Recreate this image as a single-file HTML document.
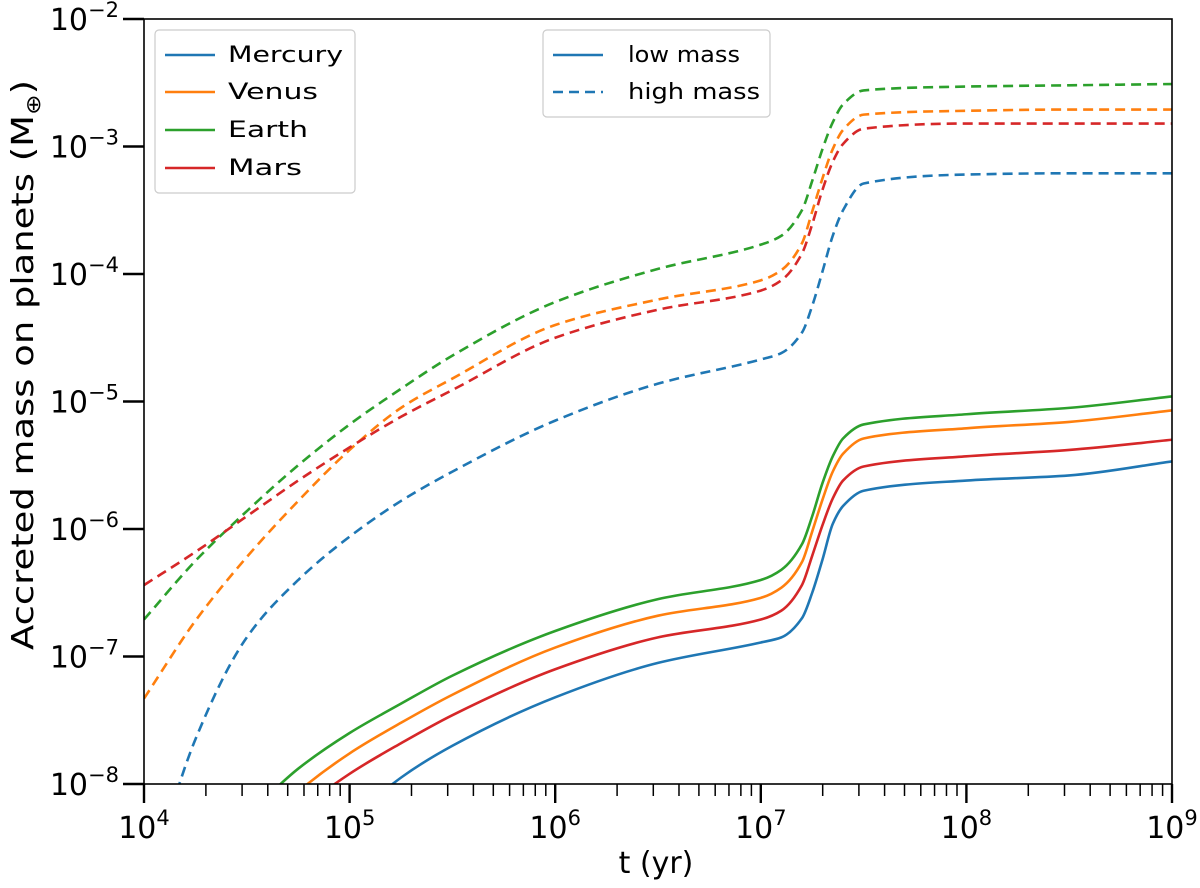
<!DOCTYPE html>
<html><head><meta charset="utf-8"><style>
html,body{margin:0;padding:0;background:#fff;}
svg{display:block;font-family:"DejaVu Sans","Liberation Sans",sans-serif;}
</style></head><body>
<svg id="chart" width="1200" height="888" viewBox="0 0 1200 888" xmlns="http://www.w3.org/2000/svg">
<defs><clipPath id="clip"><rect x="144" y="19" width="1028" height="765"/></clipPath></defs>
<g id="lines" clip-path="url(#clip)"></g>
<rect x="144" y="19" width="1028" height="765" fill="none" stroke="#000" stroke-width="1.6"/>
<g id="ticks"></g>
<text x="656" y="873" font-size="30" text-anchor="middle">t (yr)</text>
<text transform="translate(33,365) rotate(-90)" font-size="30" text-anchor="middle" textLength="570" lengthAdjust="spacingAndGlyphs">Accreted mass on planets (M<tspan font-size="20" dy="7">⊕</tspan><tspan dy="-7">)</tspan></text>
<g>
<rect x="155" y="30" width="200" height="163" rx="4" fill="#fff" stroke="#ccc" stroke-width="1.2"/>
<line x1="165" x2="215" y1="55" y2="55" stroke="#1f77b4" stroke-width="2.6"/><text x="228" y="62" font-size="22" textLength="115" lengthAdjust="spacingAndGlyphs">Mercury</text>
<line x1="165" x2="215" y1="92" y2="92" stroke="#ff7f0e" stroke-width="2.6"/><text x="228" y="99" font-size="22" textLength="90" lengthAdjust="spacingAndGlyphs">Venus</text>
<line x1="165" x2="215" y1="130" y2="130" stroke="#2ca02c" stroke-width="2.6"/><text x="228" y="137" font-size="22" textLength="80" lengthAdjust="spacingAndGlyphs">Earth</text>
<line x1="165" x2="215" y1="168" y2="168" stroke="#d62728" stroke-width="2.6"/><text x="228" y="175" font-size="22" textLength="74" lengthAdjust="spacingAndGlyphs">Mars</text>
</g>
<g>
<rect x="543" y="30" width="227" height="87" rx="4" fill="#fff" stroke="#ccc" stroke-width="1.2"/>
<line x1="553" x2="603" y1="55" y2="55" stroke="#1f77b4" stroke-width="2.6"/><text x="628" y="62" font-size="22" textLength="112" lengthAdjust="spacingAndGlyphs">low mass</text>
<line x1="553" x2="603" y1="92" y2="92" stroke="#1f77b4" stroke-width="2.6" stroke-dasharray="10,6"/><text x="628" y="99" font-size="22" textLength="132" lengthAdjust="spacingAndGlyphs">high mass</text>
</g>
</svg>
<script>
const logT = [4,4.25,4.5,4.75,5,5.25,5.5,6,6.5,7,7.1,7.2,7.25,7.3,7.35,7.4,7.5,8,8.5,9];
const earthHigh   = [-6.71,-6.25,-5.86,-5.50,-5.18,-4.90,-4.64,-4.22,-3.96,-3.77,-3.70,-3.50,-3.27,-3.02,-2.81,-2.67,-2.56,-2.53,-2.52,-2.51];
const venusHigh   = [-7.33,-6.72,-6.22,-5.78,-5.38,-5.05,-4.82,-4.40,-4.20,-4.05,-3.97,-3.76,-3.51,-3.25,-3.02,-2.87,-2.75,-2.72,-2.71,-2.71];
const marsHigh    = [-6.44,-6.18,-5.90,-5.62,-5.36,-5.12,-4.91,-4.50,-4.28,-4.13,-4.05,-3.84,-3.61,-3.34,-3.12,-2.98,-2.86,-2.82,-2.82,-2.82];
const mercuryHigh = [-8.90,-7.65,-6.85,-6.40,-6.06,-5.78,-5.55,-5.15,-4.86,-4.67,-4.62,-4.46,-4.25,-3.98,-3.70,-3.50,-3.29,-3.22,-3.21,-3.21];
const earthLow    = [null,null,-8.25,-7.88,-7.60,-7.37,-7.15,-6.80,-6.55,-6.40,-6.32,-6.12,-5.90,-5.64,-5.43,-5.29,-5.18,-5.10,-5.05,-4.96];
const venusLow    = [null,null,-8.45,-8.06,-7.76,-7.52,-7.30,-6.93,-6.68,-6.54,-6.46,-6.26,-6.02,-5.77,-5.55,-5.41,-5.29,-5.21,-5.16,-5.07];
const marsLow     = [null,null,-8.60,-8.22,-7.92,-7.68,-7.46,-7.10,-6.85,-6.71,-6.64,-6.44,-6.21,-5.97,-5.76,-5.62,-5.51,-5.43,-5.38,-5.30];
const mercuryLow  = [null,null,null,-8.75,-8.30,-7.95,-7.70,-7.32,-7.05,-6.89,-6.85,-6.70,-6.50,-6.24,-5.96,-5.82,-5.70,-5.62,-5.58,-5.47];
const xTickExps = [4,5,6,7,8,9];
const yTickExps = [-2,-3,-4,-5,-6,-7,-8];

const NS='http://www.w3.org/2000/svg';
const X0=144,X1=1172,Y0=784,Y1=19;
function xs(l){return X0+(l-4)/5*(X1-X0);}
function ys(l){return Y0-(l+8)/6*(Y0-Y1);}
function mk(tag,attrs,parent){const e=document.createElementNS(NS,tag);for(const k in attrs)e.setAttribute(k,attrs[k]);parent.appendChild(e);return e;}
function pathFor(vals){
  const P=[];vals.forEach((v,i)=>{if(v!==null)P.push([xs(logT[i]),ys(v)]);});
  const n=P.length,d=[],m=new Array(n);
  for(let i=0;i<n-1;i++)d.push((P[i+1][1]-P[i][1])/(P[i+1][0]-P[i][0]));
  m[0]=d[0];m[n-1]=d[n-2];
  for(let i=1;i<n-1;i++){
    if(d[i-1]*d[i]<=0)m[i]=0;
    else{const h0=P[i][0]-P[i-1][0],h1=P[i+1][0]-P[i][0];const w1=2*h1+h0,w2=h1+2*h0;m[i]=(w1+w2)/(w1/d[i-1]+w2/d[i]);}
  }
  let s='M'+P[0][0].toFixed(2)+','+P[0][1].toFixed(2);
  for(let i=0;i<n-1;i++){
    const h=(P[i+1][0]-P[i][0])/3;
    s+=' C'+(P[i][0]+h).toFixed(2)+','+(P[i][1]+m[i]*h).toFixed(2)+' '+(P[i+1][0]-h).toFixed(2)+','+(P[i+1][1]-m[i+1]*h).toFixed(2)+' '+P[i+1][0].toFixed(2)+','+P[i+1][1].toFixed(2);
  }
  return s;
}
const lines=document.getElementById('lines');
const series=[
 ['mercury-high-mass-line',mercuryHigh,'#1f77b4',true],['venus-high-mass-line',venusHigh,'#ff7f0e',true],
 ['earth-high-mass-line',earthHigh,'#2ca02c',true],['mars-high-mass-line',marsHigh,'#d62728',true],
 ['mercury-low-mass-line',mercuryLow,'#1f77b4',false],['venus-low-mass-line',venusLow,'#ff7f0e',false],
 ['earth-low-mass-line',earthLow,'#2ca02c',false],['mars-low-mass-line',marsLow,'#d62728',false]];
series.forEach(s=>{
  const p=mk('path',{d:pathFor(s[1]),fill:'none',stroke:s[2],'stroke-width':2.6},lines);
  if(s[3])p.setAttribute('stroke-dasharray','10,6');
  
  
});
const tg=document.getElementById('ticks');
xTickExps.forEach(e=>{
  const x=xs(e);
  mk('line',{x1:x,x2:x,y1:Y0,y2:Y0+19,stroke:'#000','stroke-width':2.4},tg);
  const t=mk('text',{x:x,y:838,'font-size':30,'text-anchor':'middle'},tg);
  t.textContent='10';
  const s=mk('tspan',{'font-size':21,dy:-13},t);s.textContent=String(e);
  
  
  if(e<9)for(let m=2;m<=9;m++){const xm=xs(e+Math.log10(m));mk('line',{x1:xm,x2:xm,y1:Y0,y2:Y0+12,stroke:'#000','stroke-width':1.5},tg);}
});
yTickExps.forEach(e=>{
  const y=ys(e);
  mk('line',{x1:X0,x2:X0-21,y1:y,y2:y,stroke:'#000','stroke-width':2.4},tg);
  const t=mk('text',{x:119,y:y+11,'font-size':30,'text-anchor':'end'},tg);
  t.textContent='10';
  const s=mk('tspan',{'font-size':21,dy:-13},t);s.textContent='−'+Math.abs(e);
  
  
  if(e>-2)for(let m=2;m<=9;m++){const ym=ys(e+Math.log10(m));mk('line',{x1:X0,x2:X0-13,y1:ym,y2:ym,stroke:'#000','stroke-width':1.5},tg);}
});
</script>
</body></html>
